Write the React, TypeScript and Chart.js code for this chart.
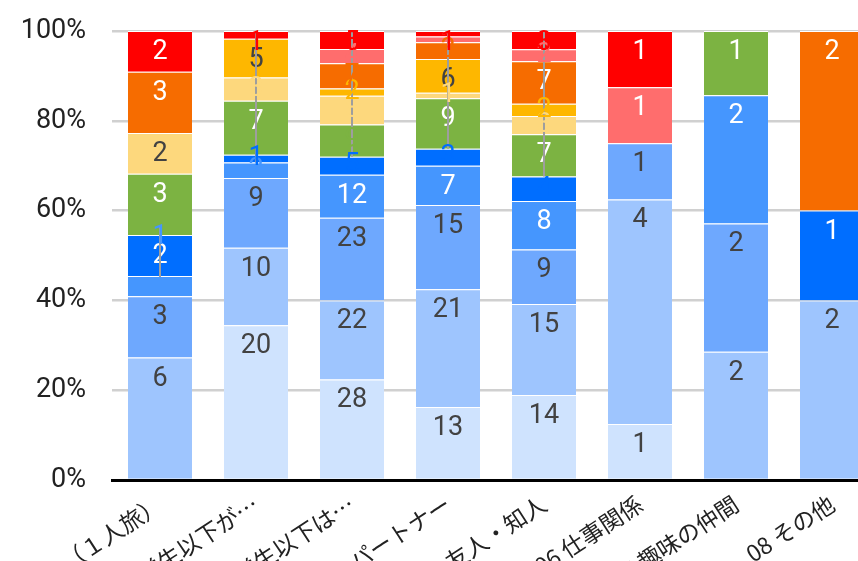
import React, { useEffect, useRef } from 'react';
import { Chart, registerables } from 'chart.js';

Chart.register(...registerables);

// Categories (x axis)
const categories = [
  '01 一人（１人旅）',
  '02 家族（小学生以下が…',
  '03 家族（小学生以下は…',
  '04 夫婦・パートナー',
  '05 友人・知人',
  '06 仕事関係',
  '07 趣味の仲間',
  '08 その他',
];

// Series values (counts), bottom to top of each stacked bar
const seriesA = [0, 20, 28, 13, 14, 1, 0, 0];
const seriesB = [6, 10, 22, 21, 15, 4, 2, 2];
const seriesC = [3, 9, 23, 15, 9, 1, 2, 0];
const seriesD = [1, 2, 12, 7, 8, 0, 2, 0];
const seriesE = [2, 1, 5, 3, 4, 0, 0, 1];
const seriesF = [3, 7, 9, 9, 7, 0, 1, 0];
const seriesG = [2, 3, 8, 1, 3, 0, 0, 0];
const seriesH = [0, 5, 2, 6, 2, 0, 0, 0];
const seriesI = [3, 0, 7, 3, 7, 0, 0, 2];
const seriesJ = [0, 0, 4, 1, 2, 1, 0, 0];
const seriesK = [2, 1, 5, 1, 3, 1, 0, 0];

const seriesNames = ['A', 'B', 'C', 'D', 'E', 'F', 'G', 'H', 'I', 'J', 'K'];
const seriesValues = [seriesA, seriesB, seriesC, seriesD, seriesE, seriesF, seriesG, seriesH, seriesI, seriesJ, seriesK];
const seriesColors = [
  '#cfe3fe', '#9ec5fe', '#6ea8fe', '#4596fe', '#006eff',
  '#7cb342', '#fdd87d', '#feb700', '#f66c00', '#ff6d6d', '#ff0000',
];
const darkText = [true, true, true, false, false, false, true, true, false, false, false];

const yTicks = [0, 20, 40, 60, 80, 100];

export default function App() {
  const ref = useRef<HTMLCanvasElement>(null);

  useEffect(() => {
    if (!ref.current) return;
    const totals = categories.map((_, j) => seriesValues.reduce((s, arr) => s + arr[j], 0));
    const datasets = seriesValues.map((arr, i) => ({
      label: seriesNames[i],
      data: arr.map((v, j) => (v / totals[j]) * 100),
      backgroundColor: seriesColors[i],
      borderColor: '#ffffff',
      borderWidth: { top: 1, bottom: 0, left: 0, right: 0 },
      borderSkipped: false as any,
      barPercentage: 0.667,
      categoryPercentage: 1,
    }));

    const labelPlugin = {
      id: 'segLabels',
      afterDatasetsDraw(chart: any) {
        const ctx = chart.ctx;
        const areaTop = chart.chartArea.top;
        ctx.save();
        ctx.font = '27px Roboto';
        ctx.textAlign = 'center';
        categories.forEach((_, j) => {
          const small: { i: number; v: number; x: number; y: number; top: number }[] = [];
          seriesValues.forEach((arr, i) => {
            const v = arr[j];
            if (!v) return;
            const el = chart.getDatasetMeta(i).data[j];
            const top = Math.min(el.y, el.base);
            const h = Math.abs(el.base - el.y);
            if (h >= 33) {
              ctx.fillStyle = darkText[i] ? '#424242' : '#ffffff';
              ctx.textBaseline = 'alphabetic';
              ctx.fillText(String(v), el.x, top + 28);
            } else {
              small.push({ i, v, x: el.x, y: top + h / 2, top });
            }
          });
          if (small.length) {
            const tops = small.map((s) => s.top);
            let lineTop = Math.min(...tops);
            const lineBottom = Math.max(...tops) + (small.length === 1 ? 1 : 0);
            if (small.length === 1) {
              lineTop = lineBottom - 52;
              small[0].y = lineTop + 12;
            }
            ctx.strokeStyle = '#9e9e9e';
            ctx.lineWidth = 2;
            ctx.beginPath();
            ctx.moveTo(small[0].x, Math.max(lineTop, areaTop));
            ctx.lineTo(small[0].x, lineBottom);
            ctx.stroke();
            ctx.textBaseline = 'middle';
            small.forEach((s) => {
              ctx.fillStyle = seriesColors[s.i];
              ctx.fillText(String(s.v), s.x, Math.max(s.y, areaTop + 12));
            });
          }
        });
        ctx.restore();
      },
    };

    const chart = new Chart(ref.current, {
      type: 'bar',
      data: { labels: categories, datasets },
      plugins: [labelPlugin],
      options: {
        animation: false,
        responsive: false,
        devicePixelRatio: 1,
        layout: { padding: { top: 31, left: 0, right: 0, bottom: 0 } },
        plugins: { legend: { display: false }, tooltip: { enabled: false } },
        scales: {
          x: {
            stacked: true,
            z: 1,
            grid: { display: false },
            border: { display: true, color: '#000000', width: 3 },
            ticks: {
              autoSkip: false,
              minRotation: 33,
              maxRotation: 33,
              padding: 2,
              color: '#222222',
              font: { family: '"Noto Sans CJK JP", "Noto Sans", sans-serif', size: 23 },
            },
            afterFit(scale: any) {
              scale.height = 81;
              scale.paddingLeft = 0;
              scale.paddingRight = 0;
            },
          },
          y: {
            stacked: true,
            min: 0,
            max: 100,
            afterBuildTicks(scale: any) {
              scale.ticks = yTicks.map((v) => ({ value: v }));
            },
            border: { display: false },
            grid: {
              drawTicks: false,
              lineWidth: 2.5,
              color: (c: any) => (c.tick && c.tick.value === 0 ? 'rgba(0,0,0,0)' : '#d0d0d0'),
            },
            ticks: {
              padding: 26,
              color: '#222222',
              font: { family: 'Roboto, sans-serif', size: 27 },
              callback: (v: any) => v + '%',
            },
            afterFit(scale: any) {
              scale.width = 112;
              scale.paddingTop = 0;
              scale.paddingBottom = 0;
            },
          },
        },
      },
    });
    return () => chart.destroy();
  }, []);

  return (
    <div style={{ position: 'fixed', left: 0, top: 0, width: 858, height: 561, overflow: 'hidden', background: '#ffffff' }}>
      <canvas ref={ref} width={880} height={561} style={{ display: 'block' }} />
    </div>
  );
}
